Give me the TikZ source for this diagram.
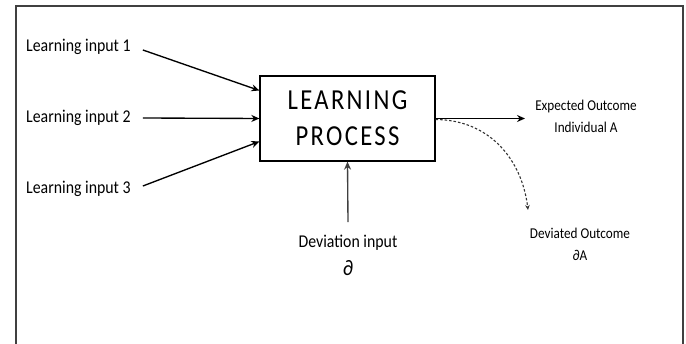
\documentclass[tikz,border=0pt]{standalone}
\usepackage{fontspec}
\setmainfont{Carlito}[FakeStretch=0.88]
\newfontfamily\boxfont{Carlito}[FakeStretch=0.85,LetterSpace=8]
\usetikzlibrary{arrows.meta}
\begin{document}
\begin{tikzpicture}[x=1pt,y=-1pt,
  lbl/.style={inner sep=0pt,font=\fontsize{18}{22}\selectfont,align=center},
  olbl/.style={inner sep=0pt,font=\fontsize{15}{22}\selectfont,align=center},
  arr/.style={line width=1.35pt,-{Stealth[length=8pt,width=7pt]}},
  darr/.style={line width=1.1pt,black!80,dash pattern=on 2.5pt off 2pt,-{Stealth[length=5pt,width=4.5pt]}},
  procbox/.style={draw,line width=1.3pt,minimum width=175pt,minimum height=85pt,inner sep=0pt,align=center,
    font=\boxfont\fontsize{29}{36}\selectfont}]
\useasboundingbox (0,0) rectangle (686,344);
\draw[line width=1.5pt,black!75] (16,344) -- (16,6) -- (683,6) -- (683,344);
\node[procbox] (box) at (347.5,118.5) {LEARNING\\PROCESS};
\node[lbl,anchor=west] (in1) at (26,47) {Learning input 1};
\node[lbl,anchor=west] (in2) at (26,118) {Learning input 2};
\node[lbl,anchor=west] (in3) at (26,189) {Learning input 3};
\draw[arr] ([xshift=12pt,yshift=-3pt]in1.east) -- ([yshift=28pt]box.west);
\draw[arr] ([xshift=12pt]in2.east) -- (box.west);
\draw[arr] ([xshift=12pt,yshift=3pt]in3.east) -- ([yshift=-23pt]box.west);
\node[olbl] (exp) at (586,116) {Expected Outcome\\Individual A};
\draw[arr] (box.east) -- (525,118.5) coordinate (expt);
\node[olbl] (dev) at (580,244) {Deviated Outcome\\∂A};
\coordinate (devt) at (528,210);
\draw[darr] ([yshift=-1pt]box.east) .. controls (490,120) and (522,160) .. (devt);
\node[lbl] (din) at (348,243) {Deviation input};
\node[inner sep=0pt,font=\fontsize{22}{22}\selectfont] (dsym) at (348,268) {∂};
\draw[arr,black!75] ([yshift=13pt]din.north) -- (box.south);
\end{tikzpicture}
\end{document}
